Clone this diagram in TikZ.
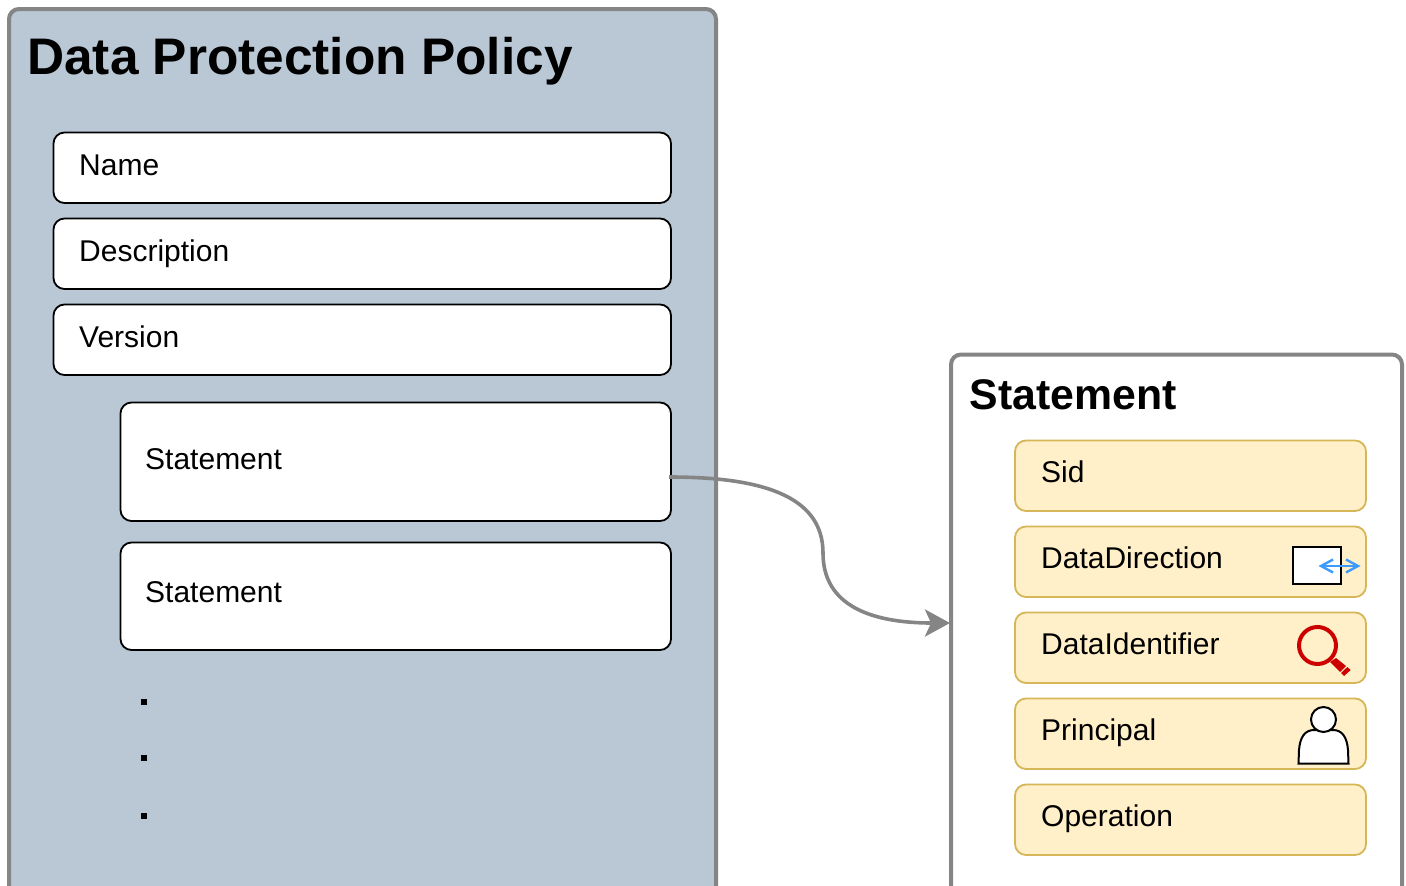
\documentclass[tikz,border=0pt]{standalone}
\usepackage{fontspec}
\setmainfont{Liberation Sans}
\usetikzlibrary{arrows.meta}
\definecolor{panelblue}{HTML}{B9C8D4}
\definecolor{panelgray}{HTML}{858585}
\definecolor{itemfill}{HTML}{FFF0C9}
\definecolor{itemline}{HTML}{D6B656}
\definecolor{arrowblue}{HTML}{3D9BFF}
\definecolor{lensred}{HTML}{CC0000}
\tikzset{
 x=1pt,y=-1pt,
 panel/.style={draw=panelgray,line width=4pt,rounded corners=10pt},
 field/.style={draw=black,line width=1.8pt,fill=white,rounded corners=11pt},
 item/.style={draw=itemline,line width=1.8pt,fill=itemfill,rounded corners=11pt},
 lab/.style={anchor=base west,inner sep=0pt,font=\fontsize{30}{36}\selectfont},
 bigtitle/.style={anchor=base west,inner sep=0pt,font=\fontsize{51.4}{60}\selectfont\bfseries},
 midtitle/.style={anchor=base west,inner sep=0pt,font=\fontsize{42.8}{50}\selectfont\bfseries},
 dotmark/.style={fill=black,minimum size=6pt,inner sep=0pt},
 iconline/.style={draw=black,line width=2pt,fill=white},
}
\begin{document}
\begin{tikzpicture}
\useasboundingbox (0,0) rectangle (1406,886);
\clip (0,0) rectangle (1406,886);
% panels
\path[panel,fill=panelblue] (9,9) rectangle (716,960);
\path[panel,fill=white] (951,354.5) rectangle (1402,960);
\node[bigtitle] (title) at (27,74.5) {Data Protection Policy};
\node[midtitle] (title2) at (969.5,409) {Statement};
% left fields
\path[field] (53.5,132.5) rectangle (671,203);
\path[field] (53.5,218.5) rectangle (671,289);
\path[field] (53.5,304.5) rectangle (671,375);
\path[field] (120.5,402.5) rectangle (671,521);
\path[field] (120.5,542.5) rectangle (671,650);
\coordinate (st1) at (669,477);
\coordinate (st2) at (950,623);
\node[lab] (n1) at (79,175) {Name};
\node[lab] (n2) at (79,261) {Description};
\node[lab] (n3) at (79,347) {Version};
\node[lab] (n4) at (145,469) {Statement};
\node[lab] (n5) at (145,602.5) {Statement};
\node[dotmark] (d1) at (144,702) {};
\node[dotmark] (d2) at (144,758) {};
\node[dotmark] (d3) at (144,816) {};
% right items
\path[item] (1015,440.5) rectangle (1366,511);
\path[item] (1015,526.5) rectangle (1366,597);
\path[item] (1015,612.5) rectangle (1366,683);
\path[item] (1015,698.5) rectangle (1366,769);
\path[item] (1015,784.5) rectangle (1366,855);
\node[lab] (s1) at (1041,482) {Sid};
\node[lab] (s2) at (1041,568) {DataDirection};
\node[lab] (s3) at (1041,654) {DataIdentifier};
\node[lab] (s4) at (1041,740) {Principal};
\node[lab] (s5) at (1041,826) {Operation};
% connector
\draw[draw=panelgray,line width=3.6pt,-{Stealth[length=25pt,width=27pt,inset=6pt]}]
  (st1) .. controls (760,477) and (823,495) .. (823,553)
  .. controls (823,605) and (870,623) .. (st2);
% data direction icon
\draw[iconline] (1293,547) rectangle (1341,584);
\draw[arrowblue,line width=2.4pt,{Straight Barb[length=12pt,width=13pt]}-{Straight Barb[length=12pt,width=13pt]}] (1318.5,566) -- (1360.5,566);
% magnifier
\draw[lensred,line width=4pt] (1317.5,645.5) circle (18.5);
\fill[lensred] (1330,662) -- (1336,658) -- (1346,666) -- (1340,672) -- cycle;
\fill[lensred] (1341,673) -- (1347.3,667) -- (1350.7,670) -- (1344,676) -- cycle;
% person
\path[iconline] (1298.5,763.5) -- (1348.5,763.5) -- (1348,750)
  .. controls (1347,737) and (1342,730) .. (1333,730)
  -- (1314,730) .. controls (1305,730) and (1300,737) .. (1299,750) -- cycle;
\path[iconline] (1323.5,719.5) circle (12.5);
\end{tikzpicture}
\end{document}
